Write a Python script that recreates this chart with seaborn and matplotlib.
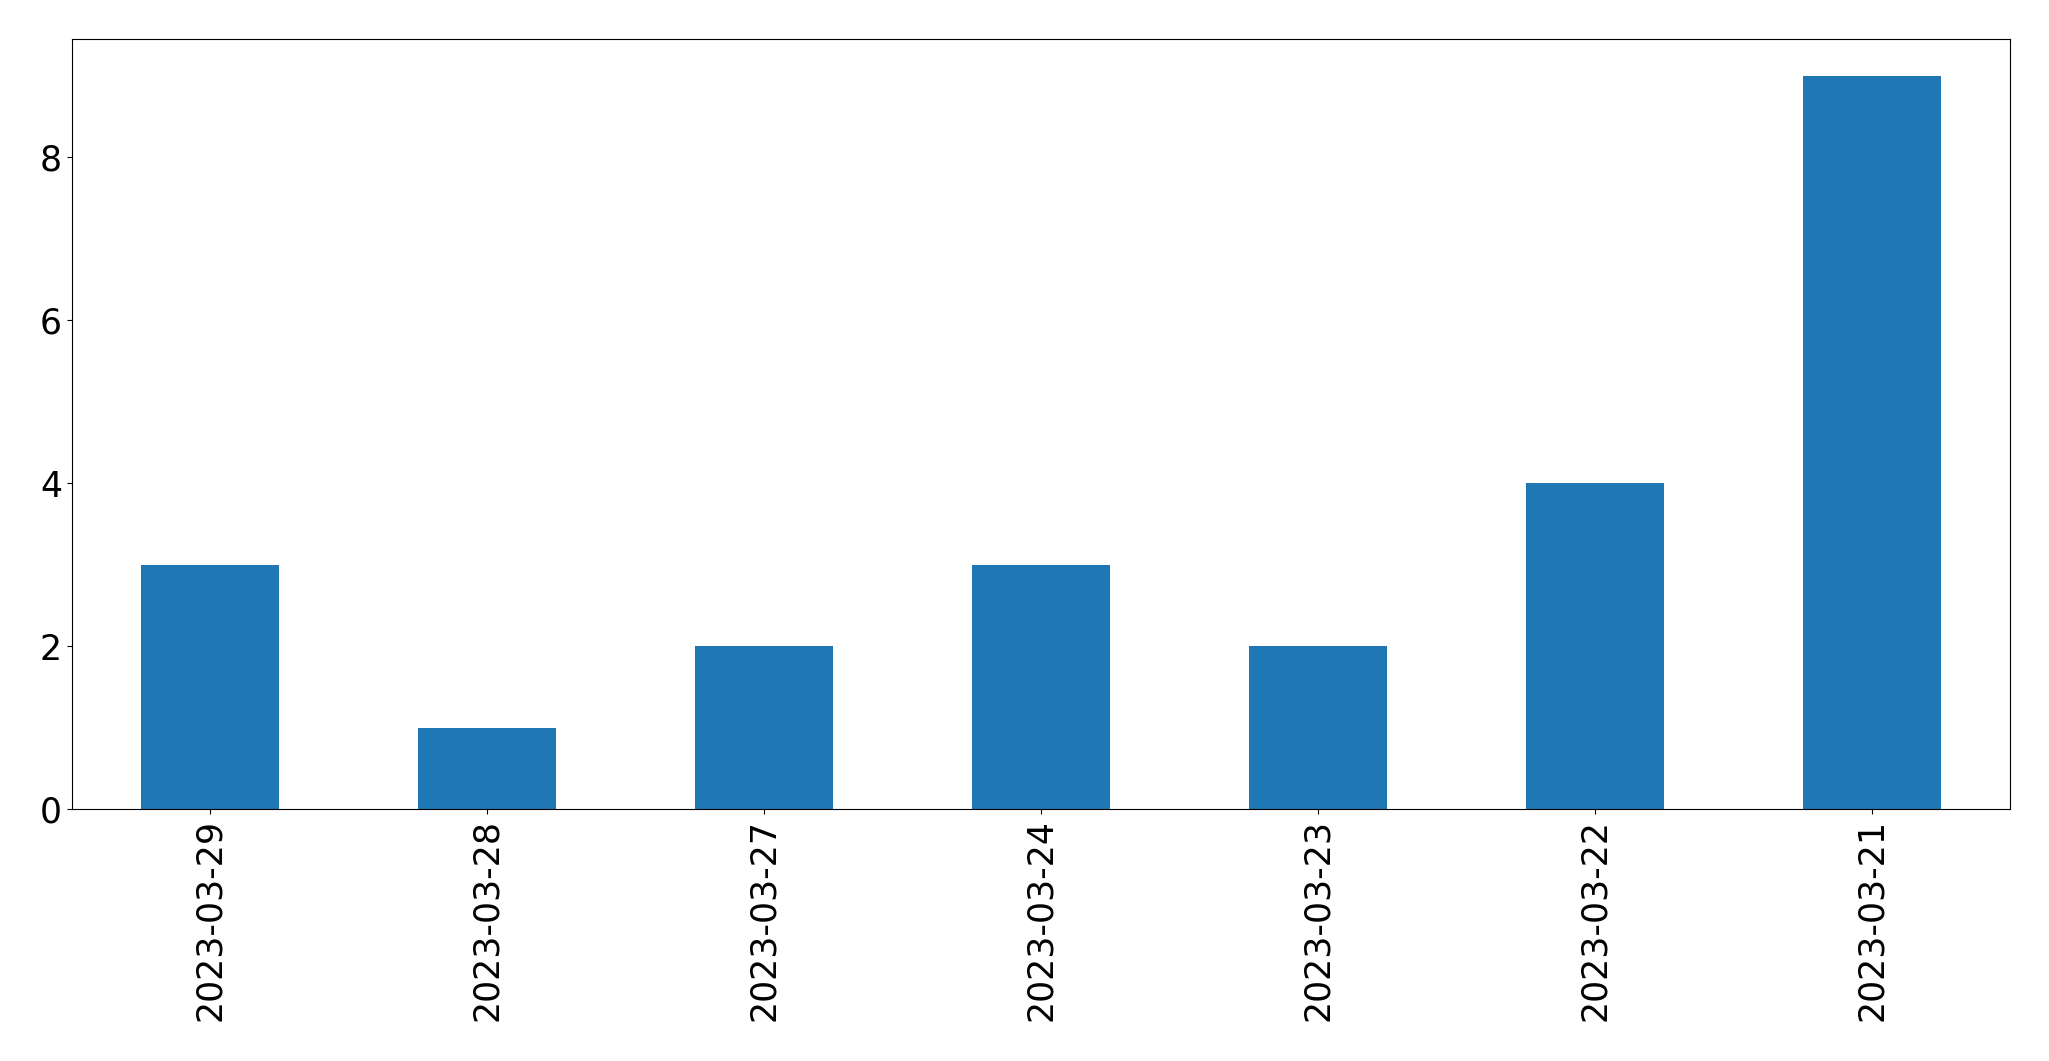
import matplotlib
matplotlib.use("Agg")
import matplotlib.pyplot as plt
import seaborn as sns
import pandas as pd

dates = ["2023-03-29", "2023-03-28", "2023-03-27", "2023-03-24",
         "2023-03-23", "2023-03-22", "2023-03-21"]
counts = [3, 1, 2, 3, 2, 4, 9]

df = pd.DataFrame({"date": dates, "count": counts})

fig = plt.figure(figsize=(20.49, 10.61), dpi=100)
ax = fig.add_axes([0.035, 0.2375, 0.9462, 0.7255])
sns.barplot(data=df, x="date", y="count", order=dates, color="#1f77b4",
            saturation=1, width=0.5, ax=ax)
ax.set_xlim(-0.5, 6.5)
ax.set_ylim(0, 9.45)
ax.set_xlabel("")
ax.set_ylabel("")
ax.set_yticks([0, 2, 4, 6, 8])
ax.tick_params(axis="both", labelsize=25)
plt.setp(ax.get_xticklabels(), rotation=90)
for s in ax.spines.values():
    s.set_visible(True)
    s.set_color("black")
fig.savefig("out.png", dpi=100)
